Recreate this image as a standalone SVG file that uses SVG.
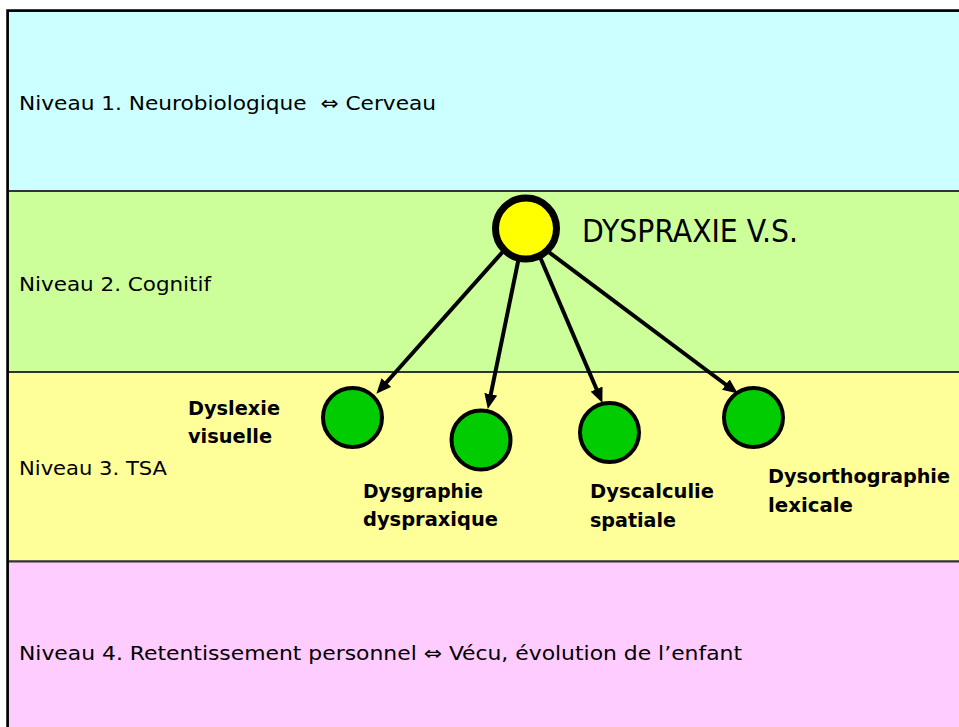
<svg xmlns="http://www.w3.org/2000/svg" width="959" height="727" viewBox="0 0 959 727">
<style>
.band{stroke:#333;stroke-width:2}
.lvl{font-family:"DejaVu Sans Condensed","DejaVu Sans",Verdana,sans-serif;font-size:20px;fill:#000}
.lbl{font-family:"DejaVu Sans Condensed","DejaVu Sans",Verdana,sans-serif;font-size:20px;font-weight:bold;fill:#000}
.big{font-family:"DejaVu Sans Condensed","DejaVu Sans",Verdana,sans-serif;font-size:31.5px;fill:#000}
.leaf{fill:#00cc00;stroke:#000;stroke-width:4}
.conn{stroke:#000;stroke-width:4;fill:none;marker-end:url(#ah)}
</style>
<defs>
<marker id="ah" markerUnits="userSpaceOnUse" markerWidth="15" markerHeight="13" refX="4" refY="6.5" orient="auto">
<path d="M0,0 L15,6.5 L0,13 z" fill="#000"/>
</marker>
</defs>
<rect width="959" height="727" fill="#fff"/>
<g id="bands">
<rect class="band" x="8" y="11" width="960" height="180" fill="#ccffff"/>
<rect class="band" x="8" y="191" width="960" height="181" fill="#ccff99"/>
<rect class="band" x="8" y="372" width="960" height="189.5" fill="#ffff99"/>
<rect class="band" x="8" y="561.5" width="960" height="180" fill="#ffccff"/>
<path d="M7.5,741 V10.5 H968" fill="none" stroke="#000" stroke-width="2.5"/>
</g>
<g id="levels">
<text class="lvl" x="19" y="110" xml:space="preserve" textLength="417" lengthAdjust="spacingAndGlyphs">Niveau 1. Neurobiologique  ⇔ Cerveau</text>
<text class="lvl" x="19" y="291" textLength="192" lengthAdjust="spacingAndGlyphs">Niveau 2. Cognitif</text>
<text class="lvl" x="19" y="475" textLength="148" lengthAdjust="spacingAndGlyphs">Niveau 3. TSA</text>
<text class="lvl" x="19" y="660" textLength="723" lengthAdjust="spacingAndGlyphs">Niveau 4. Retentissement personnel ⇔ Vécu, évolution de l’enfant</text>
</g>
<g id="connectors">
<line class="conn" x1="507" y1="247" x2="383.7" y2="385.5"/>
<line class="conn" x1="519" y1="257" x2="490" y2="398.2"/>
<line class="conn" x1="540" y1="257" x2="598.1" y2="392.8"/>
<line class="conn" x1="546" y1="250" x2="729" y2="387"/>
</g>
<g id="dyspraxie">
<circle cx="526" cy="228.5" r="30.5" fill="#ffff00" stroke="#000" stroke-width="7"/>
<text class="big" x="582" y="242" textLength="216" lengthAdjust="spacingAndGlyphs">DYSPRAXIE V.S.</text>
</g>
<g id="dyslexie">
<circle class="leaf" cx="352.5" cy="417.5" r="29.5"/>
<text class="lbl" x="188" y="415" textLength="92" lengthAdjust="spacingAndGlyphs">Dyslexie</text>
<text class="lbl" x="188" y="443" textLength="84" lengthAdjust="spacingAndGlyphs">visuelle</text>
</g>
<g id="dysgraphie">
<circle class="leaf" cx="481" cy="440" r="29.5"/>
<text class="lbl" x="363" y="498" textLength="120" lengthAdjust="spacingAndGlyphs">Dysgraphie</text>
<text class="lbl" x="363" y="526" textLength="135" lengthAdjust="spacingAndGlyphs">dyspraxique</text>
</g>
<g id="dyscalculie">
<circle class="leaf" cx="609.5" cy="432.5" r="29.5"/>
<text class="lbl" x="590" y="498" textLength="124" lengthAdjust="spacingAndGlyphs">Dyscalculie</text>
<text class="lbl" x="590" y="526.5" textLength="86" lengthAdjust="spacingAndGlyphs">spatiale</text>
</g>
<g id="dysorthographie">
<circle class="leaf" cx="753.5" cy="417.5" r="29.5"/>
<text class="lbl" x="768" y="483" textLength="182" lengthAdjust="spacingAndGlyphs">Dysorthographie</text>
<text class="lbl" x="768" y="511.5" textLength="85" lengthAdjust="spacingAndGlyphs">lexicale</text>
</g>
</svg>
